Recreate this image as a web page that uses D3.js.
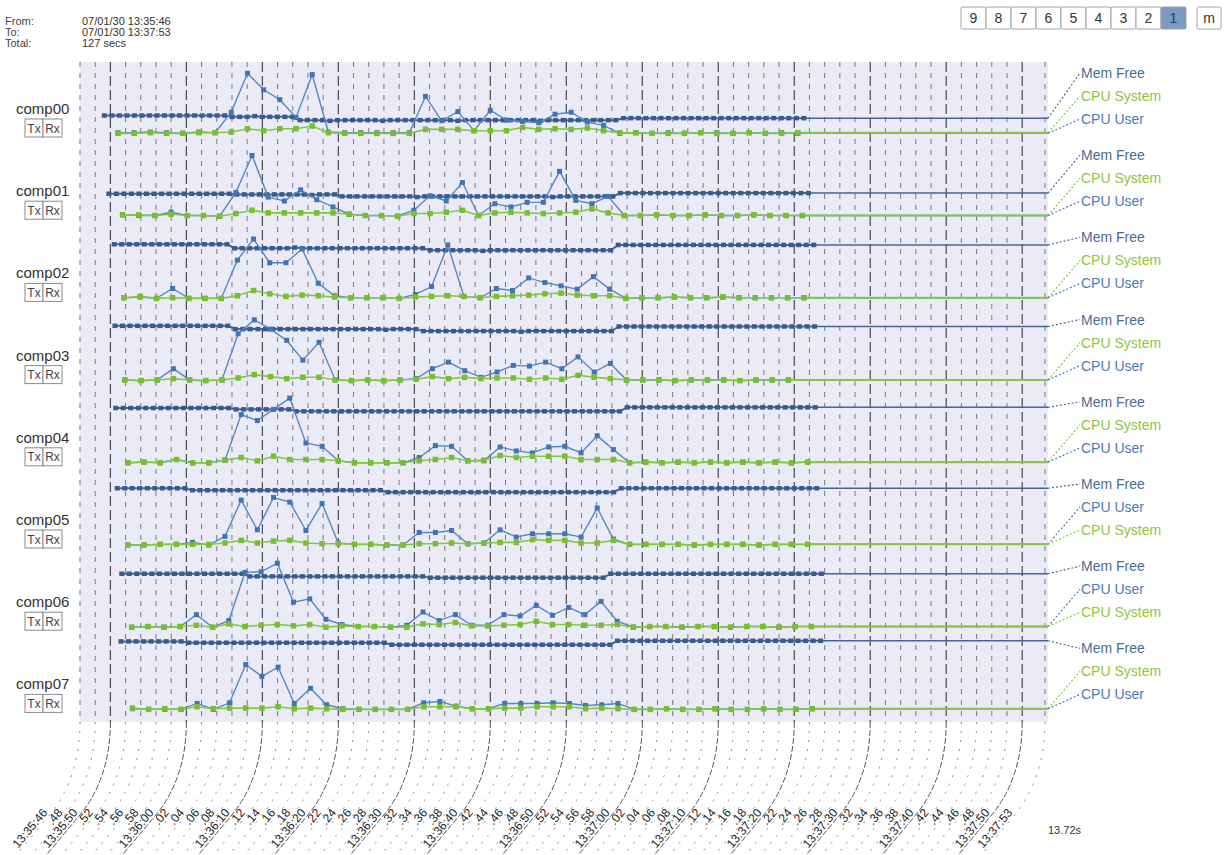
<!DOCTYPE html>
<html lang="en">
<head>
<meta charset="UTF-8">
<title>Cluster monitor</title>
<style>
  body { margin: 0; background: #fff; }
  svg text { font-family: Arial, "Liberation Sans", sans-serif; }
</style>
<script src="https://d3js.org/d3.v7.min.js"></script>
</head>
<body>
<div id="chart"></div>
<script>
// ---- data ----
const hosts = ["comp00", "comp01", "comp02", "comp03", "comp04", "comp05", "comp06", "comp07"];

// seconds after 13:35:46 of each host's first sample (clocks are a bit skewed)
const cpuStart = [5.0, 5.6, 5.8, 5.9, 6.3, 6.3, 6.8, 6.9];
const memStart = [3.2, 3.8, 4.5, 4.6, 4.7, 4.9, 5.5, 5.4];
const cpuStep = 2.13;
const memStep = 0.99;

const cpuUser = [
  [2,2,3,2,1,3,2,33,92,67,52,25,90,3,2,2,2,2,2,57,20,34,5,36,21,19,17,30,33,18,13,1,2,1,2,1,2,2,1,2,1,2,1],
  [2,1,1,6,1,1,0,36,92,29,23,40,25,14,3,1,1,0,9,31,23,51,1,19,14,21,21,68,24,19,30,1,1,2,1,1,2,1,1,2,1,1,1],
  [1,2,0,15,0,0,0,58,90,54,54,75,23,4,1,1,1,0,6,18,81,3,1,15,12,31,24,19,14,33,14,0,1,1,2,1,1,2,1,1,1,1,1],
  [1,0,1,18,1,0,1,71,92,78,61,31,58,1,0,1,0,1,3,18,28,15,5,13,23,22,28,18,36,13,26,1,1,1,0,1,1,1,0,1,1,1],
  [0,1,0,5,0,0,4,73,64,81,98,30,25,3,0,0,0,0,8,26,25,3,3,24,18,15,24,25,15,41,20,0,1,0,1,0,1,0,1,0,1,0,1],
  [0,0,1,1,4,0,13,68,23,72,65,22,63,3,1,1,0,0,19,19,22,2,3,23,12,17,17,17,12,56,9,1,1,1,1,0,1,1,1,0,1,1,1],
  [0,1,0,1,19,0,10,83,84,97,38,43,12,4,1,1,0,3,23,10,19,3,3,19,17,33,18,30,19,39,9,0,1,1,0,1,1,0,1,1,0,1,1],
  [1,0,0,0,9,0,10,68,50,64,9,32,7,1,0,0,0,0,10,12,5,1,1,9,9,9,10,9,6,7,9,0,0,1,0,0,1,0,0,1,0,0,1]
];

const cpuSystem = [
  [1,1,2,1,1,2,2,3,8,5,8,8,12,2,1,1,1,1,1,7,7,7,5,5,5,10,7,8,7,9,5,2,2,1,1,1,2,1,1,2,1,1,2],
  [2,2,1,3,1,1,0,4,9,5,5,5,5,5,3,1,1,0,4,4,6,9,1,5,6,5,4,5,6,11,5,1,1,2,1,1,2,1,1,2,1,1,1],
  [1,3,0,1,0,0,0,4,12,7,3,5,4,2,1,1,1,0,2,3,4,3,1,3,4,5,7,8,5,4,4,0,1,1,2,1,1,2,1,1,1,1,1],
  [1,0,1,3,1,0,1,4,9,6,3,5,5,1,0,1,0,1,2,6,3,5,3,4,4,2,4,2,8,5,3,1,1,1,0,1,1,1,0,1,1,1],
  [0,1,0,5,0,0,4,8,3,10,5,5,5,3,0,0,0,0,3,5,8,3,4,11,8,10,10,10,5,5,5,0,1,0,1,0,1,0,1,0,1,0,1],
  [0,0,1,1,1,1,3,7,3,6,7,3,2,2,1,1,0,0,2,2,3,2,3,4,4,8,7,7,3,3,7,1,1,1,1,0,1,1,1,0,1,1,1],
  [0,1,0,1,3,0,5,1,3,4,2,4,0,2,1,1,0,0,5,4,7,2,2,3,4,9,4,4,3,3,4,0,1,1,0,1,1,0,1,1,0,1,1],
  [2,0,1,0,4,1,2,2,2,4,1,2,1,0,0,0,0,0,4,4,4,1,1,2,2,4,4,4,1,2,1,0,0,1,0,0,1,0,0,1,0,0,1]
];

const memFree = [
  [28,28,28,28,28,28,28,28,28,28,
   28,28,28,28,28,28,28,26,26,26,
   27,26,26,26,26,26,21,21,21,21,
   20,21,21,21,21,21,21,20,21,21,
   21,21,21,21,21,21,21,20,21,21,
   21,21,21,21,21,21,21,21,20,21,
   21,21,21,21,21,21,21,21,21,24,
   24,24,24,24,24,24,24,24,24,24,
   24,24,24,24,24,24,24,24,24,24,
   24,24,24,24],
  [34,34,34,34,34,34,34,34,34,34,
   34,34,34,34,34,34,34,33,33,33,
   33,33,33,33,33,33,33,32,33,33,
   33,30,30,30,30,30,30,30,30,30,
   30,29,30,30,30,30,30,30,30,30,
   30,30,30,30,30,30,30,30,30,29,
   30,30,30,30,30,30,30,30,35,35,
   35,35,35,35,35,35,35,35,35,35,
   35,35,35,35,35,35,35,35,35,35,
   35,35,35,35],
  [82,82,82,82,82,82,82,82,82,82,
   82,82,82,82,82,82,76,76,76,76,
   76,76,76,76,77,76,76,76,76,76,
   76,76,76,76,76,76,76,76,76,76,
   76,76,73,73,73,73,73,73,73,72,
   73,73,73,73,73,73,73,73,73,73,
   73,73,73,73,73,73,73,81,81,81,
   81,81,81,81,81,81,81,81,81,81,
   81,81,81,81,81,81,81,81,81,81,
   81,81,81,81],
  [83,83,83,83,83,83,83,83,83,83,
   83,83,83,83,83,83,78,78,78,78,
   78,78,78,78,78,78,78,78,78,78,
   78,78,78,78,78,78,77,78,78,78,
   78,75,75,75,75,75,75,75,75,75,
   75,75,75,75,74,75,75,75,75,75,
   75,75,75,75,75,75,75,82,82,82,
   82,82,82,82,82,82,82,82,82,82,
   82,82,82,82,82,82,82,82,82,82,
   82,82,82,82],
  [83,83,83,83,83,83,83,83,83,83,
   83,83,83,83,83,83,81,81,81,81,
   81,81,81,81,78,78,78,78,78,78,
   78,78,78,78,78,78,78,78,78,78,
   78,78,78,78,78,78,78,78,78,78,
   78,78,78,78,78,78,78,78,78,78,
   78,78,78,78,78,78,78,78,84,84,
   84,84,84,84,84,84,84,84,84,84,
   84,84,84,84,84,84,84,84,84,84,
   84,84,84,84],
  [86,86,86,86,86,86,86,86,86,86,
   83,83,83,83,83,83,83,83,83,83,
   83,83,83,83,83,83,83,83,83,83,
   83,83,83,83,83,83,80,80,80,80,
   80,80,80,80,80,80,80,80,80,80,
   80,80,80,80,80,80,80,80,80,80,
   80,80,80,80,80,80,80,86,86,86,
   86,86,86,86,86,86,86,86,86,86,
   86,86,86,86,86,86,86,86,86,86,
   86,86,86,86],
  [81,81,81,81,81,81,81,81,81,81,
   81,81,81,81,81,81,81,77,77,77,
   77,77,77,77,77,77,77,77,77,77,
   77,77,77,77,77,77,77,77,77,77,
   77,75,75,75,75,75,75,75,75,75,
   75,75,75,75,75,75,75,75,75,75,
   75,75,75,75,75,81,81,81,81,81,
   81,81,81,81,81,81,81,81,81,81,
   81,81,81,81,81,81,81,81,81,81,
   81,81,81,81],
  [103,103,103,103,103,103,103,103,103,101,
   101,101,101,101,101,101,101,101,101,101,
   101,101,101,101,101,101,101,101,101,101,
   101,101,101,101,101,101,98,98,98,98,
   98,98,98,98,98,98,98,98,98,98,
   98,98,98,98,98,98,98,98,98,98,
   98,98,98,98,98,98,104,104,104,104,
   104,104,104,104,104,104,104,104,104,104,
   104,104,104,104,104,104,104,104,104,104,
   104,104,104,104]
];

// label order on the right for each host
const legendOrder = [
  ["Mem Free", "CPU System", "CPU User"],
  ["Mem Free", "CPU System", "CPU User"],
  ["Mem Free", "CPU System", "CPU User"],
  ["Mem Free", "CPU System", "CPU User"],
  ["Mem Free", "CPU System", "CPU User"],
  ["Mem Free", "CPU User", "CPU System"],
  ["Mem Free", "CPU User", "CPU System"],
  ["Mem Free", "CPU System", "CPU User"]
];

const tickSeconds = [0,2,4,6,8,10,12,14,16,18,20,22,24,26,28,30,32,34,36,38,40,42,44,46,48,50,52,54,56,58,
  60,62,64,66,68,70,72,74,76,78,80,82,84,86,88,90,92,94,96,98,100,102,104,106,108,110,112,114,116,118,120,122,124,127];
const tickLabels = ["13:35:46",".48","13:35:50",".52",".54",".56",".58","13:36:00",".02",".04",".06",".08",
  "13:36:10",".12",".14",".16",".18","13:36:20",".22",".24",".26",".28","13:36:30",".32",".34",".36",".38",
  "13:36:40",".42",".44",".46",".48","13:36:50",".52",".54",".56",".58","13:37:00",".02",".04",".06",".08",
  "13:37:10",".12",".14",".16",".18","13:37:20",".22",".24",".26",".28","13:37:30",".32",".34",".36",".38",
  "13:37:40",".42",".44",".46",".48","13:37:50","13:37:53"];

const zoomButtons = ["9", "8", "7", "6", "5", "4", "3", "2", "1"];

// ---- drawing ----
const W = 1229, H = 855;
const svg = d3.select("#chart").append("svg").attr("width", W).attr("height", H);

const t0 = new Date(2007, 0, 30, 13, 35, 46);
const at = s => new Date(+t0 + s * 1000);
const x = d3.scaleTime().domain([t0, at(127)]).range([80, 1045]);
const rowY = d3.scaleLinear().domain([0, hosts.length - 1]).range([134, 709.4]);
const h = d3.scaleLinear().domain([0, 100]).range([0, 66]);

const plotTop = 62, plotBottom = 722, plotRight = 1048;

const colors = {
  "Mem Free": { line: "#44659a", mark: "#395b8c", text: "#4b6b99" },
  "CPU User": { line: "#5686c4", mark: "#4174b6", text: "#4a7bbd" },
  "CPU System": { line: "#86c548", mark: "#78be30", text: "#8cc63f" }
};

svg.append("rect")
  .attr("x", 80).attr("y", plotTop)
  .attr("width", plotRight - 80).attr("height", plotBottom - plotTop)
  .attr("fill", "#ebebf8");

// vertical grid + curved leaders down to the slanted time labels
const grid = svg.append("g");
tickSeconds.forEach((s, i) => {
  const gx = x(at(s));
  const major = tickLabels[i].endsWith("0") && tickLabels[i].length > 3;
  grid.append("line")
    .attr("x1", gx).attr("x2", gx)
    .attr("y1", plotTop).attr("y2", plotBottom)
    .attr("stroke", major ? "#48484f" : "#77777f")
    .attr("stroke-width", major ? 1.2 : 1)
    .attr("stroke-dasharray", major ? "10,4" : "5,6");

  const ex = gx - 28, ey = 812;
  grid.append("path")
    .attr("d", `M${gx},${plotBottom} Q${gx},775 ${ex},${ey} L${ex - 0.643 * 60},${ey + 0.766 * 60}`)
    .attr("fill", "none")
    .attr("stroke", major ? "#555" : "#8a8a8a")
    .attr("stroke-width", 1)
    .attr("stroke-dasharray", major ? "6,2" : "2,7");

  grid.append("text")
    .attr("transform", `translate(${gx - 32},813) rotate(-50)`)
    .attr("text-anchor", "end")
    .attr("font-size", 12)
    .attr("fill", "#222")
    .text(tickLabels[i]);
});

svg.append("text")
  .attr("x", 1048).attr("y", 834)
  .attr("font-size", 11).attr("fill", "#333")
  .text("13.72s");

function drawSeries(g, row, values, start, step, name, mw, mh, width) {
  const base = rowY(row);
  const pts = values.map((v, k) => [x(at(start + k * step)), base - h(v)]);
  const c = colors[name];
  const last = pts[pts.length - 1];
  g.append("line")
    .attr("x1", last[0]).attr("x2", plotRight)
    .attr("y1", last[1]).attr("y2", last[1])
    .attr("stroke", c.line)
    .attr("stroke-width", name === "CPU System" ? 2 : 1.5);
  g.append("path")
    .attr("d", d3.line()(pts))
    .attr("fill", "none")
    .attr("stroke", c.line)
    .attr("stroke-width", width);
  g.selectAll(null)
    .data(pts)
    .join("rect")
    .attr("x", d => d[0] - mw / 2)
    .attr("y", d => d[1] - mh / 2)
    .attr("width", mw).attr("height", mh)
    .attr("fill", c.mark);
  return last;
}

hosts.forEach((host, i) => {
  const g = svg.append("g");
  const base = rowY(i);
  const lastY = {};
  lastY["Mem Free"] = drawSeries(g, i, memFree[i], memStart[i], memStep, "Mem Free", 5, 4.5, 2)[1];
  lastY["CPU User"] = drawSeries(g, i, cpuUser[i], cpuStart[i], cpuStep, "CPU User", 5, 5, 1.4)[1];
  lastY["CPU System"] = drawSeries(g, i, cpuSystem[i], cpuStart[i], cpuStep, "CPU System", 5.5, 5.5, 1.6)[1];

  // right-hand labels with dotted leaders
  legendOrder[i].forEach((name, j) => {
    const ty = base - 56 + j * 23;
    g.append("line")
      .attr("x1", plotRight).attr("y1", lastY[name])
      .attr("x2", 1080).attr("y2", ty - 5)
      .attr("stroke", colors[name].text)
      .attr("stroke-width", 1.2)
      .attr("stroke-dasharray", "2,2");
    g.append("text")
      .attr("x", 1081).attr("y", ty)
      .attr("font-size", 14)
      .attr("fill", colors[name].text)
      .text(name);
  });

  // host name + Tx/Rx boxes
  g.append("text")
    .attr("x", 16).attr("y", base - 20)
    .attr("font-size", 15).attr("fill", "#333")
    .text(host);
  [["Tx", 25, 18], ["Rx", 43, 19]].forEach(([t, bx, bw]) => {
    g.append("rect")
      .attr("x", bx).attr("y", base - 15)
      .attr("width", bw).attr("height", 18)
      .attr("fill", "#fff").attr("stroke", "#8a8a8a");
    g.append("text")
      .attr("x", bx + bw / 2).attr("y", base - 1.5)
      .attr("text-anchor", "middle")
      .attr("font-size", 12).attr("fill", "#444")
      .text(t);
  });
});

// header
const head = svg.append("g").attr("font-size", 11).attr("fill", "#444");
[["From:", "07/01/30 13:35:46"], ["To:", "07/01/30 13:37:53"], ["Total:", "127 secs"]].forEach(([k, v], i) => {
  head.append("text").attr("x", 5).attr("y", 25 + i * 11).text(k);
  head.append("text").attr("x", 82).attr("y", 25 + i * 11).attr("fill", "#333").text(v);
});

// zoom buttons
const btn = svg.append("g");
zoomButtons.forEach((b, i) => {
  const bx = 961 + i * 25;
  btn.append("rect")
    .attr("x", bx).attr("y", 7).attr("width", 25).attr("height", 22)
    .attr("rx", 1.5)
    .attr("fill", b === "1" ? "#7e99c4" : "#fff")
    .attr("stroke", "#a0a0a0");
  btn.append("text")
    .attr("x", bx + 12.5).attr("y", 23)
    .attr("text-anchor", "middle")
    .attr("font-size", 14)
    .attr("fill", b === "1" ? "#21406e" : "#333")
    .text(b);
});
btn.append("rect")
  .attr("x", 1197).attr("y", 7).attr("width", 24).attr("height", 22)
  .attr("rx", 1.5).attr("fill", "#fff").attr("stroke", "#a0a0a0");
btn.append("text")
  .attr("x", 1209).attr("y", 23).attr("text-anchor", "middle")
  .attr("font-size", 14).attr("fill", "#333").text("m");
</script>
</body>
</html>
